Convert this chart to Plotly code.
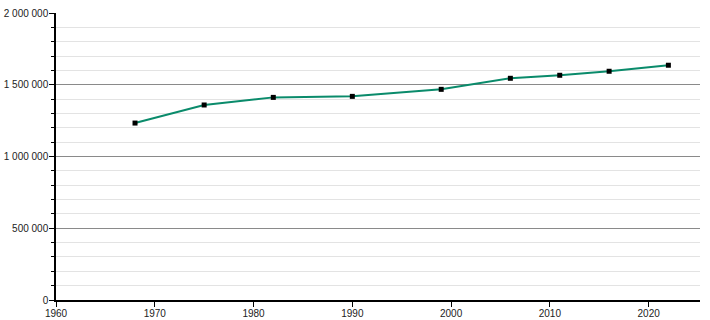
import plotly.graph_objects as go

years = [1968, 1975, 1982, 1990, 1999, 2006, 2011, 2016, 2022]
population = [1233000, 1359000, 1412000, 1419000, 1468000, 1545000, 1566000, 1594000, 1636000]

x_ticks = [1960, 1970, 1980, 1990, 2000, 2010, 2020]
y_ticks = [0, 500000, 1000000, 1500000, 2000000]

fig = go.Figure()
fig.add_trace(go.Scatter(
    x=years, y=population, mode="lines+markers",
    line=dict(color="#0a8b6b", width=2),
    marker=dict(symbol="square", size=5, color="black"),
    hoverinfo="x+y",
))

tf = dict(family="Liberation Sans, Arial, sans-serif", size=10, color="#222222")
fig.update_layout(
    template="none",
    width=710, height=320,
    margin=dict(l=56, r=10, t=13, b=20),
    paper_bgcolor="white", plot_bgcolor="white",
    separators=". ",
    showlegend=False,
    font=tf,
)
fig.update_xaxes(
    range=[1960, 2025.2], tickvals=x_ticks, ticks="outside", ticklen=5,
    tickcolor="black", showline=True, linecolor="black", linewidth=1.5,
    showgrid=False, zeroline=False, tickfont=tf, automargin=False,
    ticklabelstandoff=-2,
)
fig.update_yaxes(
    range=[0, 2000000], tickvals=y_ticks, tickformat=",d", ticks="outside",
    ticklen=5, tickcolor="black", showline=True, linecolor="black", linewidth=1.5,
    showgrid=True, gridcolor="#8a8a8a", gridwidth=1, zeroline=False,
    minor=dict(dtick=100000, showgrid=True, gridcolor="#e3e3e3", gridwidth=1,
               ticks="outside", ticklen=3, tickcolor="black"),
    tickfont=tf, automargin=False, ticklabelstandoff=-1,
)

fig.write_html("out.html")
